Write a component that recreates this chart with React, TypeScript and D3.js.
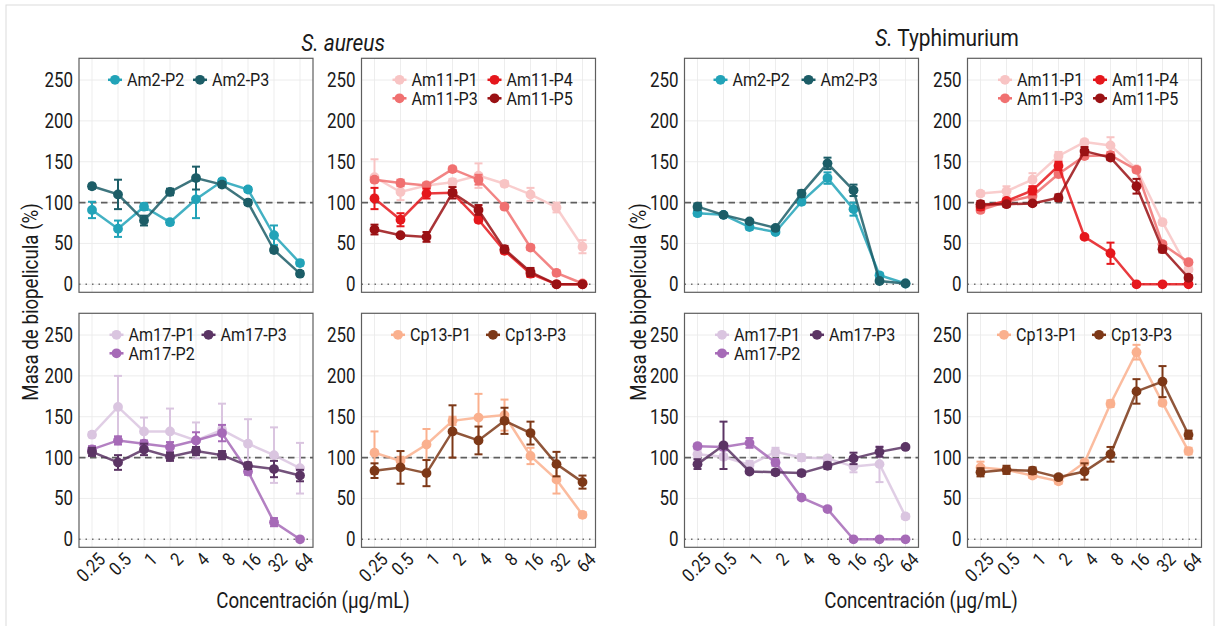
import React from "react";
import * as d3 from "d3";

const concentrations = ["0.25", "0.5", "1", "2", "4", "8", "16", "32", "64"];
const yTicks = [0, 50, 100, 150, 200, 250];

// S. aureus
const saAm2P2 = [91, 68, 95, 76, 104, 126, 116, 60, 26];
const saAm2P2Err = [10, 10, 4, 3, 23, 3, 3, 12, 3];
const saAm2P3 = [120, 110, 78, 113, 130, 122, 100, 42, 13];
const saAm2P3Err = [3, 18, 6, 4, 14, 3, 3, 3, 3];

const saAm11P1 = [131, 113, 121, 125, 133, 123, 110, 94, 46];
const saAm11P1Err = [22, 10, 4, 4, 15, 3, 8, 6, 8];
const saAm11P3 = [128, 124, 121, 141, 128, 95, 45, 14, 1];
const saAm11P3Err = [3, 4, 3, 3, 6, 3, 3, 3, 2];
const saAm11P4 = [105, 79, 111, 112, 79, 41, 13, 0, 0];
const saAm11P4Err = [13, 8, 6, 3, 3, 3, 4, 0, 0];
const saAm11P5 = [67, 60, 58, 112, 91, 43, 15, 0, 0];
const saAm11P5Err = [6, 2, 6, 7, 6, 4, 5, 0, 0];

const saAm17P1 = [128, 162, 132, 132, 121, 134, 117, 103, 87];
const saAm17P1Err = [3, 38, 17, 28, 22, 32, 30, 34, 31];
const saAm17P2 = [110, 121, 117, 113, 121, 130, 83, 21, 0];
const saAm17P2Err = [4, 5, 4, 6, 10, 10, 4, 5, 0];
const saAm17P3 = [107, 94, 110, 101, 108, 103, 90, 86, 78];
const saAm17P3Err = [5, 9, 7, 5, 5, 5, 4, 10, 7];

const saCp13P1 = [106, 96, 116, 145, 149, 152, 102, 73, 30];
const saCp13P1Err = [26, 5, 19, 5, 29, 19, 10, 17, 3];
const saCp13P3 = [84, 88, 81, 132, 121, 145, 130, 92, 70];
const saCp13P3Err = [9, 20, 16, 32, 17, 16, 14, 15, 8];

// S. Typhimurium
const stAm2P2 = [87, 85, 70, 64, 101, 130, 92, 11, 1];
const stAm2P2Err = [3, 2, 3, 2, 3, 7, 8, 3, 1];
const stAm2P3 = [95, 85, 77, 69, 111, 148, 115, 4, 1];
const stAm2P3Err = [4, 2, 2, 2, 4, 7, 7, 2, 1];

const stAm11P1 = [111, 114, 128, 157, 174, 170, 141, 76, 18];
const stAm11P1Err = [3, 6, 8, 5, 3, 10, 3, 3, 3];
const stAm11P3 = [91, 101, 108, 135, 157, 158, 140, 49, 27];
const stAm11P3Err = [3, 3, 4, 4, 3, 4, 3, 3, 3];
const stAm11P4 = [95, 102, 115, 145, 58, 38, 0, 0, 0];
const stAm11P4Err = [4, 3, 5, 5, 2, 13, 0, 0, 0];
const stAm11P5 = [98, 98, 99, 106, 163, 155, 120, 43, 8];
const stAm11P5Err = [4, 3, 2, 4, 5, 3, 9, 4, 3];

const stAm17P1 = [104, 101, 91, 107, 100, 99, 89, 92, 28];
const stAm17P1Err = [5, 3, 5, 5, 4, 3, 7, 22, 3];
const stAm17P2 = [114, 113, 118, 94, 51, 37, 0, 0, 0];
const stAm17P2Err = [3, 4, 6, 4, 2, 2, 0, 0, 0];
const stAm17P3 = [92, 115, 83, 82, 81, 90, 99, 107, 113];
const stAm17P3Err = [6, 29, 2, 3, 3, 4, 7, 6, 2];

const stCp13P1 = [88, 85, 78, 71, 94, 166, 229, 167, 108];
const stCp13P1Err = [7, 3, 3, 3, 3, 4, 9, 3, 4];
const stCp13P3 = [82, 85, 84, 76, 83, 104, 181, 193, 128];
const stCp13P3Err = [5, 5, 4, 3, 10, 9, 15, 19, 5];

const am2Names = ["Am2-P2", "Am2-P3"];
const am2Colors = ["#22a3b8", "#1c5d67"];
const am11Names = ["Am11-P1", "Am11-P3", "Am11-P4", "Am11-P5"];
const am11Colors = ["#f8c4c4", "#f07070", "#e5171c", "#9a1114"];
const am17Names = ["Am17-P1", "Am17-P2", "Am17-P3"];
const am17Colors = ["#dac5e0", "#a66ab7", "#5b3464"];
const cp13Names = ["Cp13-P1", "Cp13-P3"];
const cp13Colors = ["#fab08e", "#7d3817"];

type Series = { name: string; color: string; values: number[]; err: number[] };
type Panel = { left: number; top: number; series: Series[]; legendCols: number[][]; colGap: number; legendX: number; xLabels: boolean };

const mk = (names: string[], colors: string[], vals: number[][], errs: number[][]): Series[] =>
  names.map((n, i) => ({ name: n, color: colors[i], values: vals[i], err: errs[i] }));

const W = 234;
const H = 234;
const ROW_TOP = [58.3, 313.3];
const COL_LEFT = [79, 361.5, 684.5, 967.5];

const panels: Panel[] = [
  { left: COL_LEFT[0], top: ROW_TOP[0], series: mk(am2Names, am2Colors, [saAm2P2, saAm2P3], [saAm2P2Err, saAm2P3Err]), legendCols: [[0], [1]], colGap: 85, legendX: 36, xLabels: false },
  { left: COL_LEFT[1], top: ROW_TOP[0], series: mk(am11Names, am11Colors, [saAm11P1, saAm11P3, saAm11P4, saAm11P5], [saAm11P1Err, saAm11P3Err, saAm11P4Err, saAm11P5Err]), legendCols: [[0, 1], [2, 3]], colGap: 95, legendX: 38, xLabels: false },
  { left: COL_LEFT[2], top: ROW_TOP[0], series: mk(am2Names, am2Colors, [stAm2P2, stAm2P3], [stAm2P2Err, stAm2P3Err]), legendCols: [[0], [1]], colGap: 88, legendX: 36, xLabels: false },
  { left: COL_LEFT[3], top: ROW_TOP[0], series: mk(am11Names, am11Colors, [stAm11P1, stAm11P3, stAm11P4, stAm11P5], [stAm11P1Err, stAm11P3Err, stAm11P4Err, stAm11P5Err]), legendCols: [[0, 1], [2, 3]], colGap: 95, legendX: 37.5, xLabels: false },
  { left: COL_LEFT[0], top: ROW_TOP[1], series: mk(am17Names, am17Colors, [saAm17P1, saAm17P2, saAm17P3], [saAm17P1Err, saAm17P2Err, saAm17P3Err]), legendCols: [[0, 1], [2]], colGap: 92, legendX: 37.5, xLabels: true },
  { left: COL_LEFT[1], top: ROW_TOP[1], series: mk(cp13Names, cp13Colors, [saCp13P1, saCp13P3], [saCp13P1Err, saCp13P3Err]), legendCols: [[0], [1]], colGap: 95, legendX: 36.5, xLabels: true },
  { left: COL_LEFT[2], top: ROW_TOP[1], series: mk(am17Names, am17Colors, [stAm17P1, stAm17P2, stAm17P3], [stAm17P1Err, stAm17P2Err, stAm17P3Err]), legendCols: [[0, 1], [2]], colGap: 95, legendX: 37.5, xLabels: true },
  { left: COL_LEFT[3], top: ROW_TOP[1], series: mk(cp13Names, cp13Colors, [stCp13P1, stCp13P3], [stCp13P1Err, stCp13P3Err]), legendCols: [[0], [1]], colGap: 95, legendX: 36.5, xLabels: true },
];

const FONT = "Roboto, 'Open Sans', sans-serif";
const SX = 0.87;
const TXT = "#1a1a1a";

function CText(props: { x: number; y: number; anchor?: string; size: number; rotate?: number; dy?: string; italic?: boolean; children: React.ReactNode; fill?: string }) {
  const { x, y, anchor = "start", size, rotate = 0, dy, italic, children, fill = TXT } = props;
  return (
    <text
      transform={`translate(${x},${y}) rotate(${rotate}) scale(${SX},1)`}
      textAnchor={anchor}
      fontSize={size}
      fontFamily={FONT}
      fontStyle={italic ? "italic" : "normal"}
      dy={dy}
      fill={fill}
    >
      {children}
    </text>
  );
}

function PanelView({ p }: { p: Panel }) {
  const x = d3.scalePoint<string>().domain(concentrations).range([p.left, p.left + W]).padding(0.5);
  const y = d3.scaleLinear().domain([-9.8, 276.6]).range([p.top + H, p.top]);
  const line = d3
    .line<number>()
    .x((_, i) => x(concentrations[i]) as number)
    .y((v) => y(v));
  const cap = 4;
  return (
    <g>
      <rect x={p.left} y={p.top} width={W} height={H} fill="#fff" />
      {concentrations.map((c) => (
        <line key={"gx" + c} x1={x(c)} x2={x(c)} y1={p.top} y2={p.top + H} stroke="#ebebeb" strokeWidth={0.9} />
      ))}
      {yTicks.map((t) => (
        <line key={"gy" + t} x1={p.left} x2={p.left + W} y1={y(t)} y2={y(t)} stroke="#ebebeb" strokeWidth={0.9} />
      ))}
      <line x1={p.left} x2={p.left + W} y1={y(100)} y2={y(100)} stroke="#5f5f5f" strokeWidth={1.6} strokeDasharray="6.5,4.5" />
      <line x1={p.left} x2={p.left + W} y1={y(0)} y2={y(0)} stroke="#707070" strokeWidth={1.6} strokeDasharray="1.5,5" />
      {p.series.map((s) => (
        <g key={s.name}>
          <path d={line(s.values) || ""} fill="none" stroke={s.color} strokeWidth={2.5} strokeOpacity={0.85} />
          {s.values.map((v, i) => {
            const cx = x(concentrations[i]) as number;
            const e = s.err[i];
            return (
              <g key={i}>
                {e > 0 && (
                  <g stroke={s.color} strokeWidth={2}>
                    <line x1={cx} x2={cx} y1={y(v - e)} y2={y(v + e)} />
                    <line x1={cx - cap} x2={cx + cap} y1={y(v - e)} y2={y(v - e)} />
                    <line x1={cx - cap} x2={cx + cap} y1={y(v + e)} y2={y(v + e)} />
                  </g>
                )}
                <circle cx={cx} cy={y(v)} r={4.9} fill={s.color} />
              </g>
            );
          })}
        </g>
      ))}
      <rect x={p.left} y={p.top} width={W} height={H} fill="none" stroke="#5e5e5e" strokeWidth={1.2} />
      {yTicks.map((t) => (
        <CText key={"yl" + t} x={p.left - 6} y={y(t)} anchor="end" size={19.5} dy="0.36em">
          {t}
        </CText>
      ))}
      {p.xLabels &&
        concentrations.map((c) => (
          <CText key={"xl" + c} x={(x(c) as number) + 5} y={p.top + H + 4} anchor="end" size={18.5} rotate={-45} dy="0.72em">
            {c}
          </CText>
        ))}
      {p.legendCols.map((col, ci) =>
        col.map((si, ri) => {
          const s = p.series[si];
          const sx = p.left + p.legendX + ci * p.colGap;
          const sy = p.top + 21.5 + ri * 18.5;
          return (
            <g key={"lg" + si}>
              <line x1={sx - 7} x2={sx + 7} y1={sy} y2={sy} stroke={s.color} strokeWidth={2.5} />
              <circle cx={sx} cy={sy} r={4.9} fill={s.color} />
              <CText x={sx + 12} y={sy} size={18.5} dy="0.36em">
                {s.name}
              </CText>
            </g>
          );
        })
      )}
    </g>
  );
}

export default function App() {
  return (
    <svg width={1219} height={626} style={{ position: "absolute", left: 0, top: 0, background: "#fff" }}>
      <rect x={0} y={0} width={1219} height={626} fill="#fff" />
      <rect x={6} y={5} width={1208} height={700} fill="none" stroke="#dcdcdc" strokeWidth={1} />
      {panels.map((p, i) => (
        <PanelView key={i} p={p} />
      ))}
      <CText x={343} y={42} anchor="middle" size={24} italic dy="0.36em">
        S. aureus
      </CText>
      <text transform={`translate(947,37) scale(${SX},1)`} textAnchor="middle" fontSize={24} fontFamily={FONT} fill={TXT} dy="0.36em">
        <tspan fontStyle="italic">S.</tspan> Typhimurium
      </text>
      <CText x={30} y={302} anchor="middle" size={21.5} rotate={-90} dy="0.36em">
        Masa de biopelicula (%)
      </CText>
      <CText x={638} y={302} anchor="middle" size={21.5} rotate={-90} dy="0.36em">
        Masa de biopelícula (%)
      </CText>
      <CText x={313} y={600} anchor="middle" size={21.5} dy="0.36em">
        Concentración (µg/mL)
      </CText>
      <CText x={921} y={600} anchor="middle" size={21.5} dy="0.36em">
        Concentración (µg/mL)
      </CText>
    </svg>
  );
}
